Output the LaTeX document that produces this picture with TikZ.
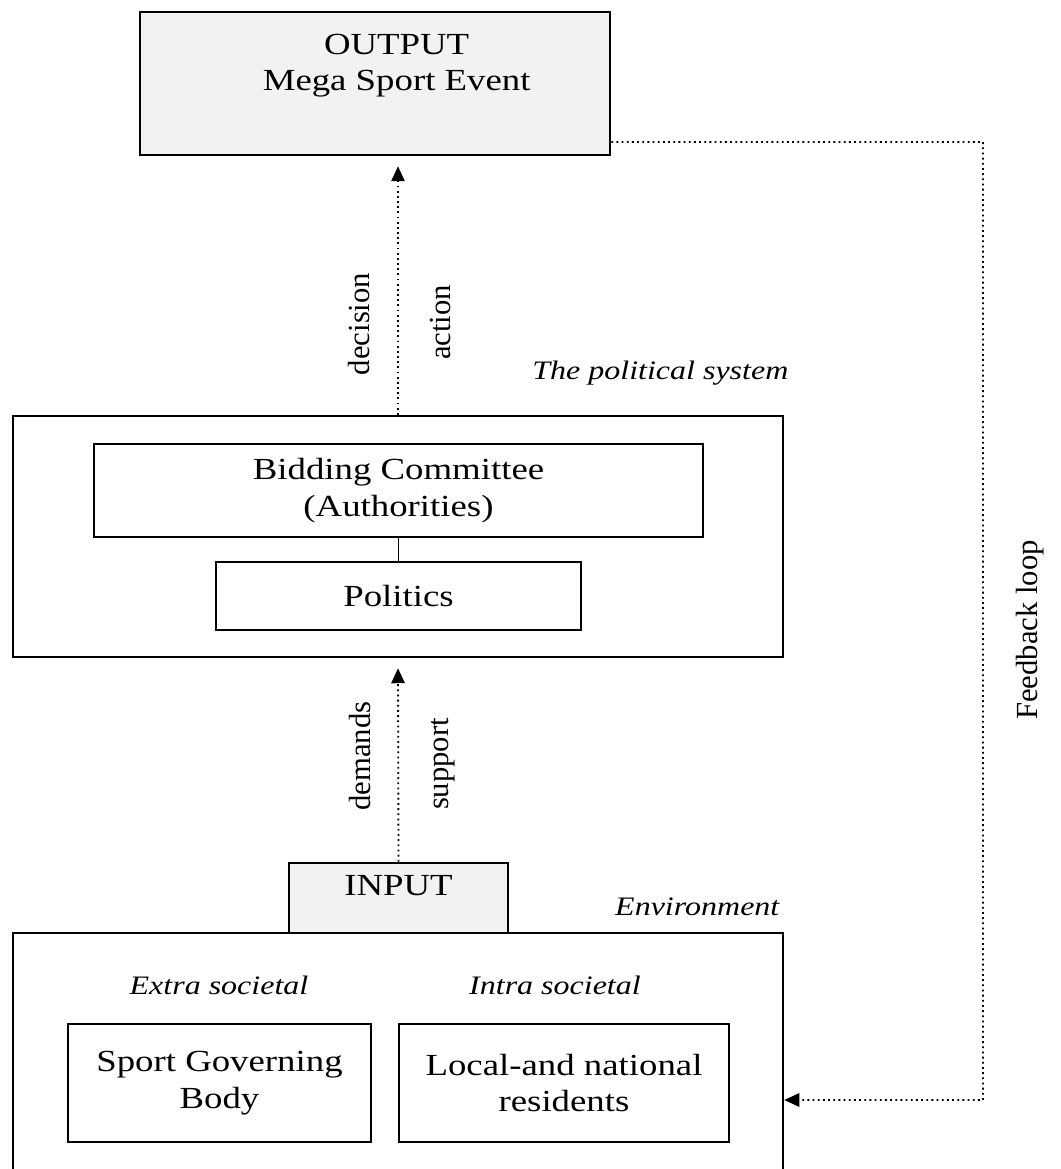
\documentclass[tikz,border=0pt]{standalone}
\usepackage{fontspec}
\setmainfont{Liberation Serif}[FakeStretch=1.2]
\newfontfamily\uprightfont{Liberation Serif}
\usetikzlibrary{arrows.meta, positioning}
\definecolor{stipplegray}{RGB}{242,242,242}
\tikzset{systembox/.style={rectangle, draw=black, line width=0.75pt, align=center, inner sep=0pt},
flowline/.style={densely dotted, line width=0.55pt, -{Triangle[length=4.5pt, width=4pt]}}}

\begin{document}
\begin{tikzpicture}[
        font=\fontsize{9.2}{11}\selectfont,
        systembox/.style={rectangle, draw=black, line width=0.75pt, align=center, inner sep=0pt},
        greybox/.style={systembox, fill=stipplegray},
        boxtext/.style={align=center, inner sep=0pt},
        sidetext/.style={font=\fontsize{8}{10}\selectfont\itshape, inner sep=0pt},
        flowtext/.style={font=\uprightfont\fontsize{9.2}{11}\selectfont, rotate=90, inner sep=0pt},
        flowline/.style={densely dotted, line width=0.55pt, -{Triangle[length=4.5pt, width=4pt]}}
    ]
        \useasboundingbox (0pt, 0pt) rectangle (318.3pt, 350.7pt);
        \clip (0pt, 0pt) rectangle (318.3pt, 350.7pt);
        % Output
        \node[greybox, minimum width=141pt, minimum height=42.9pt] (output) at (112.5pt, 325.65pt) {};
        \node[boxtext] (outputtext) at (119pt, 331pt) {OUTPUT\\Mega Sport Event};
        % Political system
        \node[systembox, minimum width=231pt, minimum height=72.3pt] (political) at (119.4pt, 189.75pt) {};
        \node[systembox, minimum width=182.7pt, minimum height=27.9pt] (bidding) at (119.55pt, 203.55pt) {Bidding Committee\\(Authorities)};
        \node[systembox, minimum width=109.5pt, minimum height=20.4pt] (politics) at (119.55pt, 171.9pt) {Politics};
        \node[sidetext, anchor=base east] (politicallabel) at (236.7pt, 236.7pt) {The political system};
        % Environment
        \node[greybox, minimum width=65.7pt, minimum height=21pt] (input) at (119.55pt, 81.3pt) {};
        \node[boxtext] (inputtext) at (119.55pt, 84.9pt) {INPUT};
        \node[systembox, minimum width=231pt, minimum height=76.8pt] (env) at (119.4pt, 32.4pt) {};
        \node[sidetext, anchor=base east] (envlabel) at (234pt, 75.9pt) {Environment};
        \node[sidetext, anchor=base] (extralabel) at (65.7pt, 52.2pt) {Extra societal};
        \node[sidetext, anchor=base] (intralabel) at (166.5pt, 52.2pt) {Intra societal};
        \node[systembox, minimum width=90.9pt, minimum height=35.4pt] (governing) at (65.85pt, 25.8pt) {Sport Governing\\Body};
        \node[systembox, minimum width=99pt, minimum height=35.4pt] (residents) at (169.2pt, 25.8pt) {Local-and national\\residents};
        % Flows
        \draw[flowline, shorten >=3pt] (political.north) -- (political.north |- output.south);
        \draw[flowline, shorten >=3pt] (input.north) -- (political.south);
        \draw[line width=0.4pt] (bidding.south) -- (politics.north);
        \node[flowtext] (decision) at (107.7pt, 253.5pt) {decision};
        \node[flowtext] (action) at (132pt, 254pt) {action};
        \node[flowtext] (demands) at (108pt, 123.9pt) {demands};
        \node[flowtext] (support) at (133pt, 121.5pt) {support};
        % Feedback loop
        \coordinate (fbtop) at (294.9pt, 308.1pt);
        \coordinate (fbbottom) at (294.9pt, 20.7pt);
        \draw[flowline] ([yshift=-17.55pt]output.east) -- (fbtop) -- (fbbottom) -- (fbbottom -| env.east);
        \node[flowtext] (feedback) at (309pt, 161.7pt) {Feedback loop};
    \end{tikzpicture}
\end{document}
